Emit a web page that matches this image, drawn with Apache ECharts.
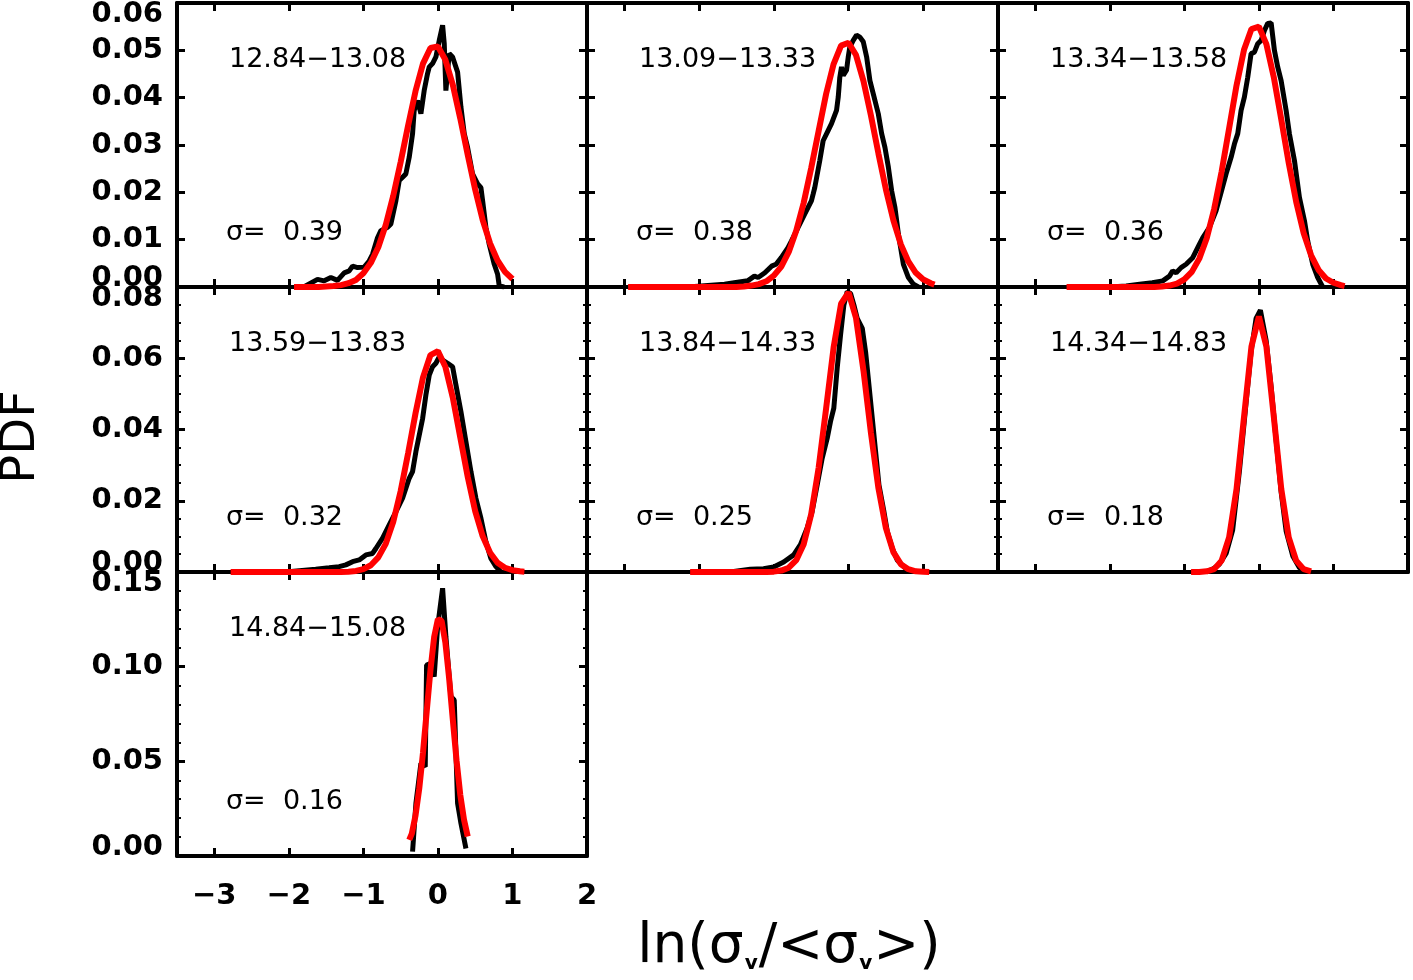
<!DOCTYPE html>
<html><head><meta charset="utf-8">
<script src="https://cdn.jsdelivr.net/npm/echarts@6/dist/echarts.min.js"></script>
<style>html,body{margin:0;padding:0;background:#fff}#c{width:1413px;height:980px}</style>
</head><body><div id="c"></div>
<script>
// ---------------- data ----------------
const xTicks = [-3, -2, -1, 0, 1, 2];
const rangeLabels = ['12.84\u221213.08', '13.09\u221213.33', '13.34\u221213.58', '13.59\u221213.83', '13.84\u221214.33', '14.34\u221214.83', '14.84\u221215.08'];
const sigmaLabels = ['0.39', '0.38', '0.36', '0.32', '0.25', '0.18', '0.16'];
const yMaxByRow = [0.06, 0.08, 0.15];
const yStepByRow = [0.01, 0.02, 0.05];

const pdf1 = [[-1.93,0],[-1.8,0],[-1.615,0.0016],[-1.526,0.0013],[-1.436,0.002],[-1.347,0.0014],[-1.257,0.003],[-1.19,0.0034],[-1.145,0.0044],[-1.078,0.0041],[-0.989,0.0042],[-0.922,0.0055],[-0.877,0.0069],[-0.81,0.0104],[-0.765,0.0119],[-0.675,0.0126],[-0.631,0.0133],[-0.564,0.0182],[-0.519,0.0225],[-0.474,0.0232],[-0.43,0.0239],[-0.385,0.0274],[-0.34,0.0324],[-0.318,0.0373],[-0.273,0.0394],[-0.228,0.0366],[-0.184,0.0415],[-0.139,0.0451],[-0.116,0.0465],[-0.072,0.0472],[-0.027,0.0486],[0.018,0.0521],[0.063,0.0553],[0.085,0.0514],[0.107,0.0415],[0.152,0.0493],[0.197,0.0486],[0.264,0.0454],[0.309,0.038],[0.353,0.0324],[0.398,0.0295],[0.465,0.0239],[0.533,0.0218],[0.577,0.021],[0.6,0.0182],[0.644,0.0126],[0.689,0.009],[0.756,0.0048],[0.801,0.0027],[0.823,0.0002],[0.89,0]];
const pdf2 = [[-2.15,0],[-1.66,0.0006],[-1.53,0.0009],[-1.35,0.0013],[-1.26,0.0023],[-1.21,0.002],[-1.12,0.003],[-1.03,0.0044],[-0.97,0.0048],[-0.9,0.0062],[-0.81,0.0083],[-0.765,0.0097],[-0.675,0.0126],[-0.587,0.0154],[-0.497,0.0182],[-0.474,0.0196],[-0.452,0.021],[-0.385,0.0267],[-0.34,0.0309],[-0.272,0.0331],[-0.228,0.0345],[-0.161,0.0373],[-0.138,0.0401],[-0.117,0.0443],[-0.094,0.0465],[-0.071,0.0447],[-0.027,0.0458],[-0.004,0.0486],[0.017,0.0507],[0.063,0.0521],[0.107,0.0532],[0.152,0.0528],[0.197,0.0518],[0.242,0.0486],[0.286,0.0436],[0.331,0.0408],[0.398,0.0366],[0.443,0.0324],[0.487,0.0295],[0.533,0.0253],[0.577,0.0203],[0.621,0.0168],[0.667,0.0112],[0.734,0.0048],[0.801,0.002],[0.868,0.0006],[0.935,0]];
const pdf3 = [[-2.0,0],[-1.78,0.0002],[-1.6,0.0006],[-1.43,0.0009],[-1.29,0.0013],[-1.2,0.0023],[-1.157,0.0034],[-1.11,0.003],[-1.044,0.0041],[-0.977,0.0048],[-0.888,0.0062],[-0.799,0.009],[-0.754,0.0104],[-0.664,0.0126],[-0.575,0.0161],[-0.507,0.02],[-0.44,0.0239],[-0.373,0.0274],[-0.329,0.0302],[-0.284,0.0324],[-0.239,0.0373],[-0.195,0.0401],[-0.15,0.0443],[-0.105,0.0493],[-0.06,0.0496],[-0.016,0.0514],[0.03,0.0521],[0.074,0.0542],[0.118,0.0557],[0.164,0.0558],[0.208,0.05],[0.252,0.0465],[0.298,0.0436],[0.365,0.0373],[0.409,0.0324],[0.477,0.0267],[0.544,0.0189],[0.611,0.014],[0.655,0.0097],[0.722,0.0048],[0.789,0.002],[0.856,0]];
const pdf4 = [[-2.04,0],[-1.64,0.0008],[-1.459,0.0012],[-1.325,0.0015],[-1.235,0.002],[-1.145,0.0029],[-1.056,0.0034],[-0.966,0.0048],[-0.877,0.0052],[-0.832,0.0066],[-0.742,0.0095],[-0.653,0.0132],[-0.564,0.0169],[-0.474,0.0207],[-0.385,0.0263],[-0.34,0.0282],[-0.295,0.0338],[-0.205,0.0431],[-0.161,0.0497],[-0.116,0.0553],[-0.072,0.0576],[-0.027,0.0586],[0.018,0.0604],[0.063,0.0595],[0.13,0.0586],[0.197,0.0576],[0.242,0.0525],[0.309,0.045],[0.376,0.0366],[0.443,0.0282],[0.51,0.0207],[0.577,0.0151],[0.644,0.0085],[0.711,0.0038],[0.779,0.0015],[0.846,0]];
const pdf5 = [[-1.584,0],[-1.315,0.0008],[-1.137,0.0009],[-1.002,0.0014],[-0.868,0.0028],[-0.734,0.0048],[-0.644,0.0077],[-0.555,0.0123],[-0.488,0.0169],[-0.42,0.0244],[-0.353,0.0319],[-0.286,0.0375],[-0.242,0.0422],[-0.197,0.046],[-0.152,0.0572],[-0.107,0.0665],[-0.063,0.0749],[-0.018,0.0787],[0.027,0.0782],[0.072,0.0749],[0.116,0.0712],[0.184,0.0684],[0.228,0.0618],[0.273,0.0525],[0.318,0.0431],[0.362,0.0338],[0.407,0.0244],[0.474,0.0169],[0.519,0.0113],[0.586,0.0066],[0.653,0.0033],[0.743,0.0014],[0.832,0]];
const pdf6 = [[-0.709,0],[-0.62,0.0008],[-0.53,0.0022],[-0.44,0.0052],[-0.352,0.0118],[-0.262,0.0282],[-0.172,0.0475],[-0.105,0.0618],[-0.038,0.0712],[0.02,0.0735],[0.097,0.065],[0.164,0.052],[0.231,0.037],[0.298,0.0225],[0.365,0.0115],[0.454,0.0045],[0.544,0.0012],[0.634,0]];
const pdf7 = [[-0.34,0.0023],[-0.295,0.0278],[-0.228,0.049],[-0.17,0.0472],[-0.152,0.1009],[-0.094,0.1018],[-0.05,0.0947],[-0.004,0.1211],[0.063,0.1414],[0.107,0.1159],[0.174,0.0842],[0.219,0.0824],[0.264,0.0278],[0.309,0.0173],[0.376,0.004]];

const fit1 = [[-1.93,0],[-1.6,0],[-1.5,0.0001],[-1.4,0.0002],[-1.3,0.0004],[-1.2,0.0008],[-1.1,0.0015],[-1.0,0.0029],[-0.9,0.0051],[-0.8,0.0084],[-0.7,0.0131],[-0.6,0.0192],[-0.5,0.0264],[-0.4,0.0341],[-0.3,0.0414],[-0.2,0.0472],[-0.1,0.0505],[0.0,0.0508],[0.1,0.048],[0.2,0.0427],[0.3,0.0356],[0.4,0.0279],[0.5,0.0206],[0.6,0.0142],[0.7,0.0092],[0.8,0.0056],[0.9,0.0032],[1.0,0.0017]];
const fit2 = [[-2.95,0],[-1.5,0],[-1.4,0.0001],[-1.3,0.0003],[-1.2,0.0006],[-1.1,0.0012],[-1.0,0.0024],[-0.9,0.0043],[-0.8,0.0074],[-0.7,0.0119],[-0.6,0.0178],[-0.5,0.0251],[-0.4,0.033],[-0.3,0.0408],[-0.2,0.0471],[-0.1,0.051],[0.0,0.0516],[0.1,0.049],[0.2,0.0435],[0.3,0.0362],[0.4,0.0282],[0.5,0.0206],[0.6,0.0141],[0.7,0.009],[0.8,0.0054],[0.9,0.003],[1.0,0.0016],[1.1,0.0008],[1.15,0.0005]];
const fit3 = [[-2.58,0],[-1.4,0],[-1.3,0.0001],[-1.2,0.0003],[-1.1,0.0007],[-1.0,0.0016],[-0.9,0.0032],[-0.8,0.006],[-0.7,0.0103],[-0.6,0.0165],[-0.5,0.0244],[-0.4,0.0335],[-0.3,0.0426],[-0.2,0.0501],[-0.1,0.0545],[0.0,0.055],[0.1,0.0513],[0.2,0.0443],[0.3,0.0354],[0.4,0.0262],[0.5,0.018],[0.6,0.0114],[0.7,0.0067],[0.8,0.0036],[0.9,0.0018],[1.0,0.0009],[1.1,0.0004],[1.15,0.0002]];
const fit4 = [[-2.78,0],[-1.3,0],[-1.2,0.0001],[-1.1,0.0003],[-1.0,0.0008],[-0.9,0.0019],[-0.8,0.0041],[-0.7,0.0079],[-0.6,0.014],[-0.5,0.0227],[-0.4,0.0333],[-0.3,0.0446],[-0.2,0.0546],[-0.1,0.0609],[0.0,0.062],[0.1,0.0576],[0.2,0.0489],[0.3,0.0378],[0.4,0.0267],[0.5,0.0171],[0.6,0.0101],[0.7,0.0054],[0.8,0.0026],[0.9,0.0012],[1.0,0.0005],[1.1,0.0002],[1.16,0.0001]];
const fit5 = [[-2.12,0],[-1.1,0],[-1.0,0.0001],[-0.9,0.0004],[-0.8,0.0012],[-0.7,0.0033],[-0.6,0.0078],[-0.5,0.0162],[-0.4,0.0293],[-0.3,0.0459],[-0.2,0.063],[-0.1,0.0753],[0.0,0.0785],[0.1,0.0713],[0.2,0.0565],[0.3,0.039],[0.4,0.0235],[0.5,0.0123],[0.6,0.0056],[0.7,0.0022],[0.8,0.0008],[0.9,0.0002],[1.0,0.0001],[1.08,0]];
const fit6 = [[-0.91,0],[-0.8,0],[-0.7,0.0002],[-0.6,0.0008],[-0.5,0.0032],[-0.4,0.0097],[-0.3,0.0233],[-0.2,0.0435],[-0.1,0.0633],[0.0,0.0717],[0.1,0.0633],[0.2,0.0435],[0.3,0.0233],[0.4,0.0097],[0.5,0.0032],[0.6,0.0008],[0.7,0.0002]];
const fit7 = [[-0.385,0.0085],[-0.35,0.0118],[-0.3,0.0215],[-0.25,0.0357],[-0.2,0.0546],[-0.15,0.0764],[-0.1,0.0982],[-0.05,0.1157],[0.0,0.1251],[0.05,0.1241],[0.1,0.1128],[0.15,0.094],[0.2,0.072],[0.25,0.0505],[0.3,0.0323],[0.35,0.0192],[0.4,0.0103]];

const pdfs = [pdf1, pdf2, pdf3, pdf4, pdf5, pdf6, pdf7];
const fits = [fit1, fit2, fit3, fit4, fit5, fit6, fit7];

// ---------------- layout ----------------
const colLeft = [177, 587, 998];
const colWidth = [410, 411, 410];
const rowTop = [3, 287, 572];
const rowHeight = [284, 285, 284];
const FONT = 'DejaVu Sans';

const fmtX = v => (v < 0 ? '\u2212' + (-v) : String(v));
const grids = [], xAxes = [], yAxes = [], series = [], graphics = [];
const axisLine = { show: true, onZero: false, lineStyle: { color: '#000', width: 4 } };
const tickFont = { fontFamily: FONT, fontWeight: 'bold', fontSize: 29, color: '#000' };

for (let i = 0; i < 7; i++) {
  const r = Math.floor(i / 3), c = i % 3;
  const yMax = yMaxByRow[r];
  grids.push({ left: colLeft[c], top: rowTop[r], width: colWidth[c], height: rowHeight[r], outerBoundsMode: 'none', containLabel: false });
  const xBase = {
    type: 'value', gridIndex: i, min: -3.5, max: 2,
    axisLine: axisLine, splitLine: { show: false },
    axisTick: { show: true, inside: true, length: 8, customValues: xTicks, lineStyle: { color: '#000', width: 3 } },
    minorTick: { show: false }
  };
  xAxes.push(Object.assign({}, xBase, {
    position: 'bottom',
    axisLabel: Object.assign({ show: i === 6, customValues: xTicks, formatter: fmtX, margin: 26 }, tickFont)
  }));
  xAxes.push(Object.assign({}, xBase, { position: 'top', axisLabel: { show: false } }));
  const yBase = {
    type: 'value', gridIndex: i, min: 0, max: yMax, interval: yStepByRow[r],
    axisLine: axisLine, splitLine: { show: false },
    axisTick: { show: true, inside: true, length: 8, lineStyle: { color: '#000', width: 3 } },
    minorTick: { show: r > 0, splitNumber: r === 1 ? 4 : 5, length: 4, lineStyle: { color: '#000', width: 2 } }
  };
  yAxes.push(Object.assign({}, yBase, {
    position: 'left',
    axisLabel: Object.assign({ show: c === 0, margin: 14,
      formatter: v => {
        const s = v.toFixed(2);
        if (Math.abs(v) < 1e-12) return '{lo|' + s + '}';
        if (Math.abs(v - yMax) < 1e-9) return '{hi|' + s + '}';
        return s;
      },
      rich: {
        lo: Object.assign({ padding: [0, 0, 18, 0] }, tickFont),
        hi: Object.assign({ padding: [22, 0, 0, 0] }, tickFont)
      }
    }, tickFont)
  }));
  yAxes.push(Object.assign({}, yBase, { position: 'right', axisLabel: { show: false } }));

  series.push({ type: 'line', xAxisIndex: 2 * i, yAxisIndex: 2 * i, data: pdfs[i], showSymbol: false, silent: true,
    lineStyle: { color: '#000', width: 5 }, z: 3 });
  series.push({ type: 'line', xAxisIndex: 2 * i, yAxisIndex: 2 * i, data: fits[i], showSymbol: false, silent: true,
    lineStyle: { color: '#ff0000', width: 6 }, z: 4 });

  graphics.push({ type: 'text', left: colLeft[c] + 52, top: rowTop[r] + 43, z: 10,
    style: { text: rangeLabels[i], fill: '#000', font: '27px "' + FONT + '"' } });
  graphics.push({ type: 'text', left: colLeft[c] + 49, top: rowTop[r] + rowHeight[r] - 68, z: 10,
    style: { text: '\u03c3=  ' + sigmaLabels[i], fill: '#000', font: '27px "' + FONT + '"' } });
}

graphics.push({ type: 'text', x: 22, y: 437, rotation: Math.PI / 2, z: 10,
  style: { text: 'PDF', fill: '#000', font: '48px "' + FONT + '"', textAlign: 'center', textVerticalAlign: 'middle' } });
graphics.push({ type: 'text', x: 789, y: 948, z: 10,
  style: { text: '{a|ln(\u03c3}{s|v}{a|/<\u03c3}{s|v}{a|>)}', textAlign: 'center', textVerticalAlign: 'middle',
    rich: { a: { fontFamily: FONT, fontSize: 55, fill: '#000', color: '#000' },
            s: { fontFamily: FONT, fontSize: 20, fontWeight: 'bold', fill: '#000', color: '#000', verticalAlign: 'bottom', padding: [0, 1, 2, 1] } } } });

const chart = echarts.init(document.getElementById('c'), null, { renderer: 'canvas' });
chart.setOption({
  animation: false,
  backgroundColor: '#fff',
  grid: grids, xAxis: xAxes, yAxis: yAxes, series: series, graphic: graphics
});
</script></body></html>
